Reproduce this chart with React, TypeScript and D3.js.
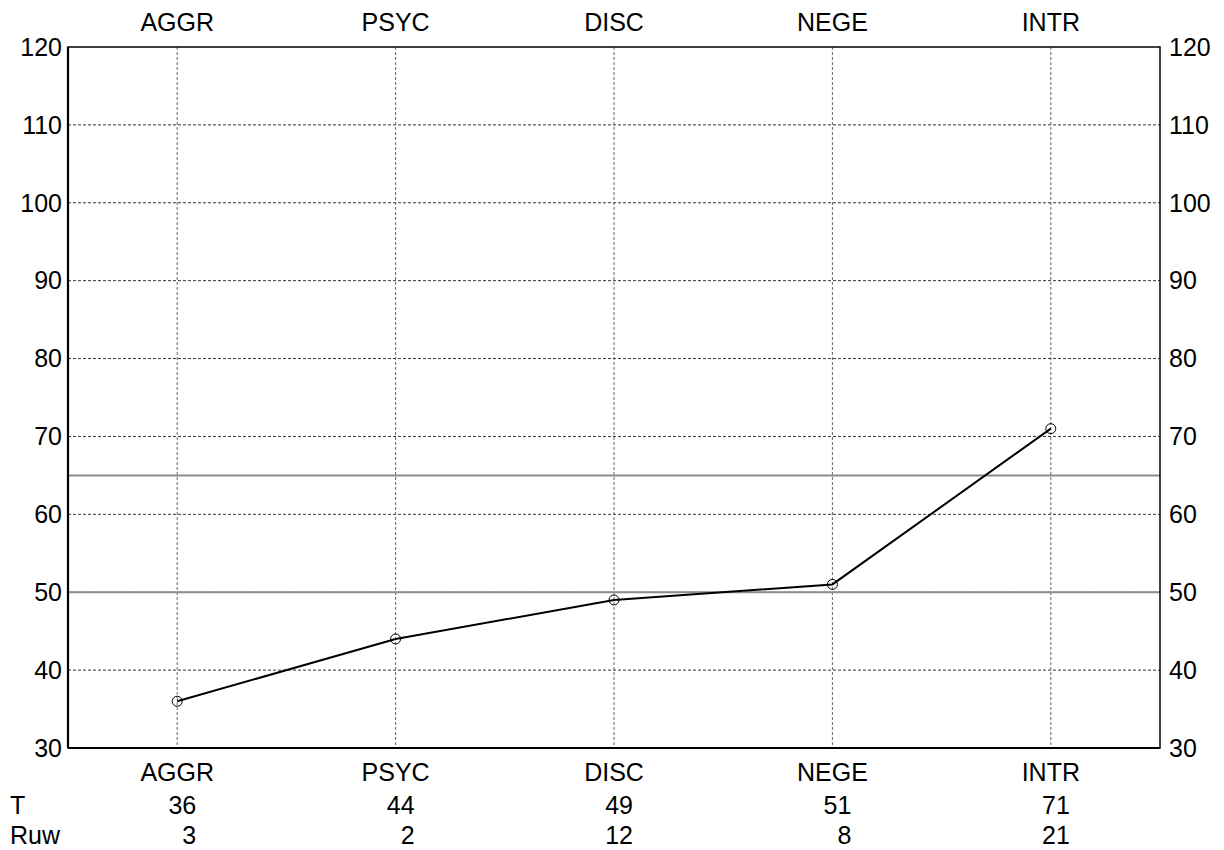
import { useEffect, useRef } from 'react';
import * as d3 from 'd3';

const categories = ['AGGR', 'PSYC', 'DISC', 'NEGE', 'INTR'];
const tScores = [36, 44, 49, 51, 71];
const rawScores = [3, 2, 12, 8, 21];
const yTicks = [30, 40, 50, 60, 70, 80, 90, 100, 110, 120];
const refLines = [50, 65];

export default function App() {
  const ref = useRef<SVGSVGElement>(null);

  useEffect(() => {
    const svg = d3.select(ref.current);
    svg.selectAll('*').remove();

    const left = 68;
    const right = 1160;
    const top = 47;
    const bottom = 748;
    const font = 'Liberation Sans, Arial, sans-serif';
    const fs = '25px';

    const x = d3.scalePoint<string>().domain(categories).range([left, right]).padding(0.5);
    const y = d3.scaleLinear().domain([30, 120]).range([bottom, top]);

    // horizontal grid
    svg
      .append('g')
      .selectAll('line')
      .data(yTicks.filter(t => t > 30 && t < 120))
      .enter()
      .append('line')
      .attr('x1', left)
      .attr('x2', right)
      .attr('y1', d => y(d))
      .attr('y2', d => y(d))
      .attr('stroke', '#000')
      .attr('stroke-width', 0.8)
      .attr('stroke-dasharray', '3,2');

    // vertical grid
    svg
      .append('g')
      .selectAll('line')
      .data(categories)
      .enter()
      .append('line')
      .attr('x1', d => x(d)!)
      .attr('x2', d => x(d)!)
      .attr('y1', top)
      .attr('y2', bottom)
      .attr('stroke', '#555')
      .attr('stroke-width', 0.9)
      .attr('stroke-dasharray', '3,2');

    // reference lines
    svg
      .append('g')
      .selectAll('line')
      .data(refLines)
      .enter()
      .append('line')
      .attr('x1', left)
      .attr('x2', right)
      .attr('y1', d => y(d))
      .attr('y2', d => y(d))
      .attr('stroke', '#8c8c8c')
      .attr('stroke-width', 2);

    // frame
    svg
      .append('rect')
      .attr('x', left)
      .attr('y', top)
      .attr('width', right - left)
      .attr('height', bottom - top)
      .attr('fill', 'none')
      .attr('stroke', '#000')
      .attr('stroke-width', 1.5);
    svg.append('line').attr('x1', left).attr('x2', left).attr('y1', top).attr('y2', bottom).attr('stroke', '#000').attr('stroke-width', 2.2);
    svg.append('line').attr('x1', left).attr('x2', right).attr('y1', bottom).attr('y2', bottom).attr('stroke', '#000').attr('stroke-width', 2.2);

    // y labels both sides
    const yl = svg.append('g').style('font-family', font).style('font-size', fs);
    yl.selectAll('text.l')
      .data(yTicks)
      .enter()
      .append('text')
      .attr('class', 'l')
      .attr('x', left - 6)
      .attr('y', d => y(d))
      .attr('dy', '0.35em')
      .attr('text-anchor', 'end')
      .text(d => d);
    yl.selectAll('text.r')
      .data(yTicks)
      .enter()
      .append('text')
      .attr('class', 'r')
      .attr('x', right + 9)
      .attr('y', d => y(d))
      .attr('dy', '0.35em')
      .attr('text-anchor', 'start')
      .text(d => d);

    // category labels top and bottom
    const cl = svg.append('g').style('font-family', font).style('font-size', fs);
    cl.selectAll('text.t')
      .data(categories)
      .enter()
      .append('text')
      .attr('class', 't')
      .attr('x', d => x(d)!)
      .attr('y', 31)
      .attr('text-anchor', 'middle')
      .text(d => d);
    cl.selectAll('text.b')
      .data(categories)
      .enter()
      .append('text')
      .attr('class', 'b')
      .attr('x', d => x(d)!)
      .attr('y', 781)
      .attr('text-anchor', 'middle')
      .text(d => d);

    // score rows
    const rows = [
      { label: 'T', values: tScores, y: 814 },
      { label: 'Ruw', values: rawScores, y: 844 },
    ];
    rows.forEach(r => {
      const g = svg.append('g').style('font-family', font).style('font-size', fs);
      g.append('text').attr('x', 10).attr('y', r.y).text(r.label);
      g.selectAll('text.v')
        .data(r.values)
        .enter()
        .append('text')
        .attr('class', 'v')
        .attr('x', (d, i) => x(categories[i])! + 19)
        .attr('y', r.y)
        .attr('text-anchor', 'end')
        .text(d => d);
    });

    // line
    const line = d3
      .line<number>()
      .x((d, i) => x(categories[i])!)
      .y(d => y(d));
    svg
      .append('path')
      .datum(tScores)
      .attr('d', line)
      .attr('fill', 'none')
      .attr('stroke', '#000')
      .attr('stroke-width', 2);

    svg
      .append('g')
      .selectAll('circle')
      .data(tScores)
      .enter()
      .append('circle')
      .attr('cx', (d, i) => x(categories[i])!)
      .attr('cy', d => y(d))
      .attr('r', 5)
      .attr('fill', 'none')
      .attr('stroke', '#000')
      .attr('stroke-width', 1);
  }, []);

  return (
    <svg
      ref={ref}
      width={1224}
      height={850}
      style={{ position: 'absolute', left: 0, top: 0, background: '#fff' }}
    />
  );
}
